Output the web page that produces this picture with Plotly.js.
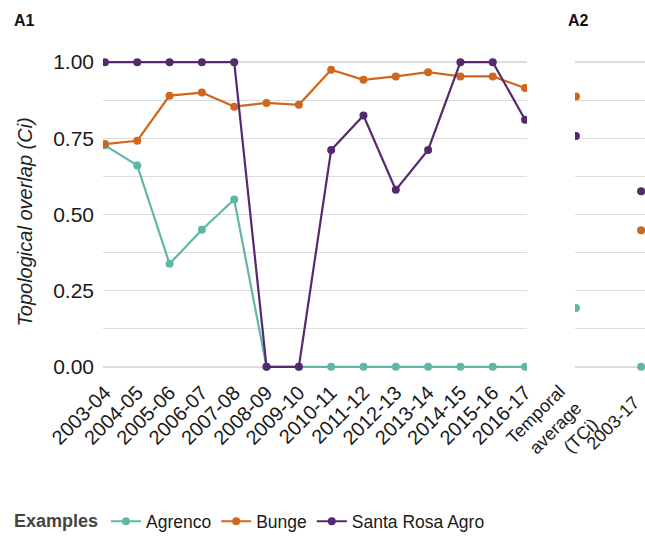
<!DOCTYPE html>
<html>
<head>
<meta charset="utf-8">
<script src="https://cdn.plot.ly/plotly-3.0.1.min.js"></script>
<style>html,body{margin:0;padding:0;background:#fff;}#chart{width:645px;height:548px;}</style>
</head>
<body>
<div id="chart"></div>
<script>
// ---- data ----
const seasons = ["2003-04","2004-05","2005-06","2006-07","2007-08","2008-09","2009-10",
                 "2010-11","2011-12","2012-13","2013-14","2014-15","2015-16","2016-17"];
const agrenco = [0.727,0.661,0.338,0.450,0.549,0,0,0,0,0,0,0,0,0];
const bunge   = [0.731,0.742,0.890,0.900,0.854,0.866,0.860,0.975,0.942,0.953,0.967,0.953,0.953,0.915];
const santaRosa = [1,1,1,1,1,0,0,0.712,0.825,0.581,0.712,1,1,0.811];

const a2Cats = ["Temporal<br>average<br>(TCi)","2003-17"];
const agrencoA2 = [0.193,0];
const bungeA2   = [0.887,0.448];
const santaRosaA2 = [0.758,0.576];

const seriesNames = ["Agrenco","Bunge","Santa Rosa Agro"];
const yTickVals = [0,0.125,0.25,0.375,0.5,0.625,0.75,0.875,1];
const yTickText = ["0.00","","0.25","","0.50","","0.75","","1.00"];

// ---- styles ----
const colors = ["#5fb8a7","#cf671c","#55296f"];
const font = "Liberation Sans, Arial, sans-serif";

const a1Data = [agrenco,bunge,santaRosa];
const a2Data = [agrencoA2,bungeA2,santaRosaA2];
const traces = [];
a1Data.forEach((vals,i)=>{
  traces.push({x:seasons,y:vals,name:seriesNames[i],type:"scatter",mode:"lines+markers",
    line:{color:colors[i],width:2.2},marker:{color:colors[i],size:8},
    xaxis:"x",yaxis:"y"});
});
a2Data.forEach((vals,i)=>{
  traces.push({x:a2Cats,y:vals,name:seriesNames[i],type:"scatter",mode:"markers",
    marker:{color:colors[i],size:8},showlegend:false,xaxis:"x2",yaxis:"y2"});
});

const yCommon = {range:[-0.03,1.03],tickvals:yTickVals,ticktext:yTickText,
  gridcolor:"#dcdcdc",gridwidth:1.3,zeroline:false,showline:false,ticks:"",fixedrange:true};

// A2 category labels drawn as rotated annotations (right-aligned, centred block)
const a2LabelShift = [{dx:-24,dy:-55},{dx:-28,dy:-47}];
const a2Labels = a2Cats.map((c,i)=>({
  text:c,xref:"x2",yref:"paper",x:c,y:0,xshift:a2LabelShift[i].dx,yshift:a2LabelShift[i].dy,
  textangle:-45,align:"right",showarrow:false,xanchor:"center",yanchor:"middle",
  font:{size:18,color:"#1a1a1a"}
}));

const layout = {
  width:645,height:548,
  margin:{l:103,r:0,t:53,b:171.5},
  paper_bgcolor:"#fff",plot_bgcolor:"#fff",
  font:{family:font,color:"#1a1a1a",size:20},
  showlegend:true,
  legend:{orientation:"h",x:-0.168,xanchor:"left",y:-0.45,yanchor:"middle",
    title:{text:"<b>Examples</b>",font:{size:18,color:"#444"},side:"left"},
    font:{size:17.5,color:"#1a1a1a"},itemwidth:30,traceorder:"normal"},
  xaxis:{domain:[0,0.7823],range:[-0.06,13.06],type:"category",tickangle:-45,
    showgrid:false,zeroline:false,showline:false,ticks:"",tickfont:{size:20},anchor:"y"},
  yaxis:Object.assign({},yCommon,{domain:[0,1],anchor:"x",tickfont:{size:21},ticklabelstandoff:8}),
  xaxis2:{domain:[0.8708,1],range:[-0.015,1.06],type:"category",showticklabels:false,
    showgrid:false,zeroline:false,showline:false,ticks:"",anchor:"y2"},
  yaxis2:Object.assign({},yCommon,{domain:[0,1],anchor:"x2",showticklabels:false}),
  annotations:[
    {text:"<i>Topological overlap (Ci)</i>",xref:"paper",yref:"paper",x:-0.1439,y:0.475,
     textangle:-90,showarrow:false,font:{size:20,color:"#222"},xanchor:"center",yanchor:"middle"},
    {text:"<b>A1</b>",xref:"paper",yref:"paper",x:-0.167,y:1.10,xanchor:"left",yanchor:"middle",
     showarrow:false,font:{size:16,color:"#111"}},
    {text:"<b>A2</b>",xref:"paper",yref:"paper",x:0.855,y:1.10,xanchor:"left",yanchor:"middle",
     showarrow:false,font:{size:16,color:"#111"}}
  ].concat(a2Labels)
};

Plotly.newPlot("chart",traces,layout,{displayModeBar:false,staticPlot:true});
</script>
</body>
</html>
